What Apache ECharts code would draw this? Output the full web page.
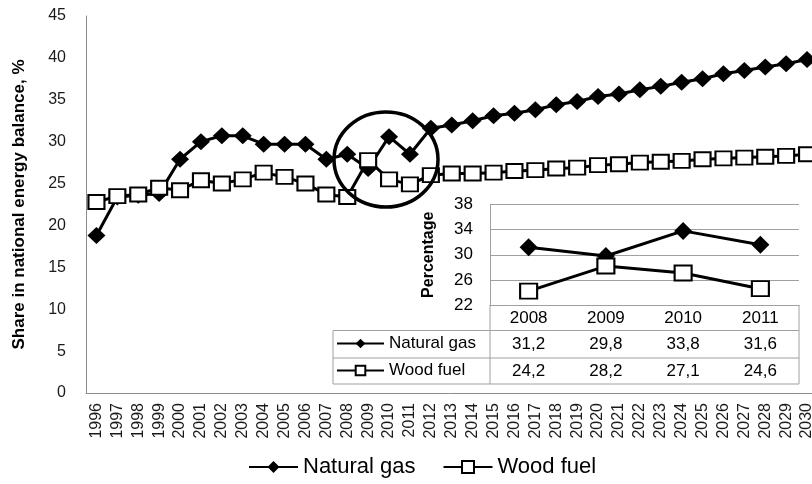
<!DOCTYPE html>
<html><head><meta charset="utf-8">
<script src="https://cdn.jsdelivr.net/npm/echarts@6/dist/echarts.min.js"></script>
<style>html,body{margin:0;padding:0;background:#fff}#c{width:812px;height:484px}</style>
</head><body><div id="c"></div>
<script>
const years = ['1996','1997','1998','1999','2000','2001','2002','2003','2004','2005','2006','2007','2008','2009','2010','2011','2012','2013','2014','2015','2016','2017','2018','2019','2020','2021','2022','2023','2024','2025','2026','2027','2028','2029','2030'];
const naturalGas = [18.8,23.4,23.6,23.8,27.9,30.0,30.7,30.7,29.7,29.7,29.7,27.9,28.5,26.8,30.6,28.5,31.6,32.0,32.5,33.1,33.4,33.8,34.4,34.8,35.4,35.7,36.2,36.6,37.1,37.5,38.1,38.5,38.9,39.3,39.8];
const woodFuel = [22.8,23.5,23.7,24.5,24.2,25.4,25.0,25.5,26.3,25.8,25.0,23.7,23.4,27.8,25.5,24.9,26.0,26.2,26.2,26.3,26.5,26.6,26.8,26.9,27.2,27.3,27.5,27.6,27.7,27.9,28.0,28.1,28.2,28.3,28.5];
const insetYears = ['2008','2009','2010','2011'];
const insetNaturalGas = [31.2,29.8,33.8,31.6];
const insetWoodFuel = [24.2,28.2,27.1,24.6];

const FONT = "'Liberation Sans', Arial, sans-serif";
const GRAY = '#a0a0a0';
const chart = echarts.init(document.getElementById('c'), null, {renderer:'canvas'});

// inset layout
const IL = 490, IT = 204.5, IW = 309, IH = 100.5;
const TB = IT + IH; // table top
const rowY = [TB, TB + 25.5, TB + 53, TB + 79];
const tableLeft = 333;
const fmt = v => v.toFixed(1).replace('.', ',');

const graphics = [];
graphics.push({type:'line', shape:{x1:tableLeft, y1:rowY[1], x2:IL+IW, y2:rowY[1]}, style:{stroke:GRAY, lineWidth:1}});
graphics.push({type:'line', shape:{x1:tableLeft, y1:rowY[2], x2:IL+IW, y2:rowY[2]}, style:{stroke:GRAY, lineWidth:1}});
graphics.push({type:'line', shape:{x1:tableLeft, y1:rowY[3], x2:IL+IW, y2:rowY[3]}, style:{stroke:GRAY, lineWidth:1}});
graphics.push({type:'line', shape:{x1:tableLeft, y1:rowY[1], x2:tableLeft, y2:rowY[3]}, style:{stroke:GRAY, lineWidth:1}});
graphics.push({type:'line', shape:{x1:IL, y1:TB, x2:IL, y2:rowY[3]}, style:{stroke:GRAY, lineWidth:1}});
graphics.push({type:'line', shape:{x1:IL+IW, y1:TB, x2:IL+IW, y2:rowY[3]}, style:{stroke:GRAY, lineWidth:1}});
insetYears.forEach((y, i) => {
  const cx = IL + (i + 0.5) * IW / insetYears.length;
  graphics.push({type:'text', x:cx, y:(rowY[1]+rowY[2])/2, style:{text:fmt(insetNaturalGas[i]), font:'17px ' + FONT, fill:'#000', align:'center', verticalAlign:'middle'}});
  graphics.push({type:'text', x:cx, y:(rowY[2]+rowY[3])/2, style:{text:fmt(insetWoodFuel[i]), font:'17px ' + FONT, fill:'#000', align:'center', verticalAlign:'middle'}});
});
graphics.push({type:'ellipse', shape:{cx:386, cy:159.5, rx:52, ry:47.5}, style:{stroke:'#000', lineWidth:3.5, fill:null}, z:10});

const mainSymbolStyle = {color:'#fff', borderColor:'#000', borderWidth:2};

const option = {
  animation:false,
  backgroundColor:'#fff',
  textStyle:{fontFamily:FONT},
  grid:[
    {left:86, top:16, width:731.5, height:377, outerBoundsMode:'none', containLabel:false},
    {left:IL, top:IT, width:IW, height:IH, outerBoundsMode:'none', containLabel:false}
  ],
  legend:[
    {data:['Natural gas','Wood fuel'], left:248, top:456, padding:0, itemWidth:49, itemHeight:15, itemGap:27,
     textStyle:{fontSize:22, color:'#000', fontFamily:FONT}},
    {data:['Natural gas (inset)','Wood fuel (inset)'], orient:'vertical', left:336, top:rowY[1]+3, padding:0, itemWidth:47, itemHeight:12, itemGap:7,
     formatter: n => n.replace(' (inset)', ''),
     textStyle:{fontSize:17, color:'#000', fontFamily:FONT, lineHeight:20}}
  ],
  xAxis:[
    {type:'category', gridIndex:0, data:years, boundaryGap:true,
     axisLine:{lineStyle:{color:'#8c8c8c', width:1}}, axisTick:{show:false},
     axisLabel:{rotate:90, interval:0, fontSize:16, color:'#1a1a1a', margin:10, fontFamily:FONT}},
    {type:'category', gridIndex:1, data:insetYears, boundaryGap:true,
     axisLine:{show:true, lineStyle:{color:GRAY, width:1}}, axisTick:{show:false},
     axisLabel:{fontSize:17, color:'#000', margin:5, fontFamily:FONT}}
  ],
  yAxis:[
    {type:'value', gridIndex:0, min:0, max:45, interval:5,
     axisLine:{show:true, lineStyle:{color:'#8c8c8c', width:1}}, axisTick:{show:false}, splitLine:{show:false},
     axisLabel:{fontSize:16, color:'#1a1a1a', margin:20, fontFamily:FONT},
     name:'Share in national energy balance, %', nameLocation:'middle', nameRotate:90, nameGap:58,
     nameTextStyle:{fontSize:17, fontWeight:'bold', color:'#000', fontFamily:FONT}},
    {type:'value', gridIndex:1, min:22, max:38, interval:4,
     axisLine:{show:true, lineStyle:{color:GRAY, width:1}}, axisTick:{show:false},
     splitLine:{show:true, lineStyle:{color:GRAY, width:1}},
     axisLabel:{fontSize:17, color:'#000', margin:17, fontFamily:FONT},
     name:'Percentage', nameLocation:'middle', nameRotate:90, nameGap:53,
     nameTextStyle:{fontSize:16, fontWeight:'bold', color:'#000', fontFamily:FONT}}
  ],
  series:[
    {name:'Natural gas', type:'line', xAxisIndex:0, yAxisIndex:0, data:naturalGas,
     symbol:'diamond', symbolSize:[18,17], lineStyle:{color:'#000', width:3},
     itemStyle:{color:'#000', borderColor:'#000', borderWidth:0}},
    {name:'Wood fuel', type:'line', xAxisIndex:0, yAxisIndex:0, data:woodFuel,
     symbol:'rect', symbolSize:[16,14], lineStyle:{color:'#000', width:3},
     itemStyle:mainSymbolStyle},
    {name:'Natural gas (inset)', type:'line', xAxisIndex:1, yAxisIndex:1, data:insetNaturalGas,
     symbol:'diamond', symbolSize:[18,18], lineStyle:{color:'#000', width:3},
     itemStyle:{color:'#000', borderColor:'#000', borderWidth:0}},
    {name:'Wood fuel (inset)', type:'line', xAxisIndex:1, yAxisIndex:1, data:insetWoodFuel,
     symbol:'rect', symbolSize:[17,15], lineStyle:{color:'#000', width:3},
     itemStyle:mainSymbolStyle}
  ],
  graphic:graphics
};
chart.setOption(option);
</script></body></html>
